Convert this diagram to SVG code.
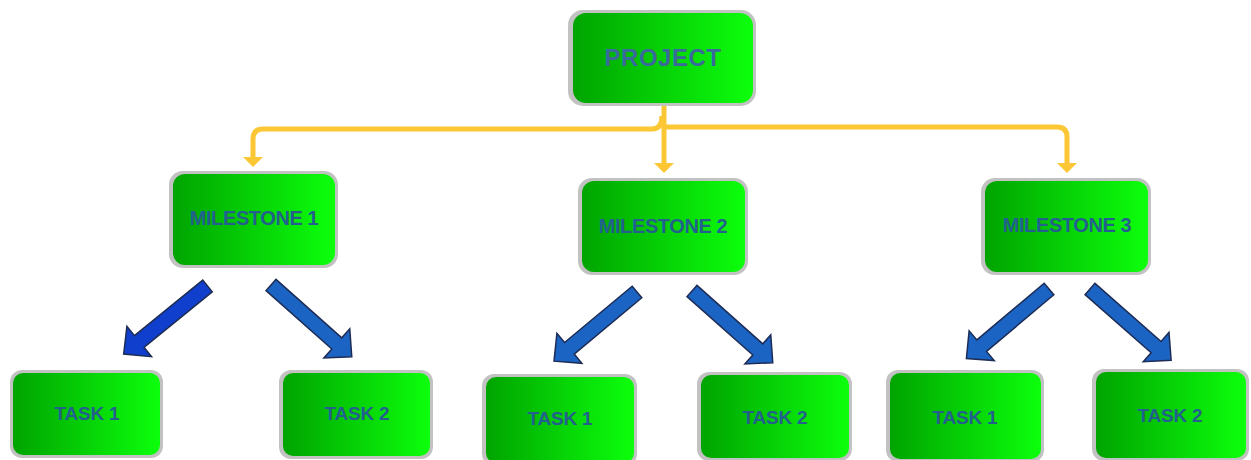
<svg xmlns="http://www.w3.org/2000/svg" width="1251" height="460" viewBox="0 0 1251 460">
<style>
  .sh { fill: #c2c2c2; }
  .bx { fill: url(#g); }
  .t { font-family: "Liberation Sans", Arial, sans-serif; font-weight: bold; fill: #23608e; text-anchor: middle; }
  .tp { font-size: 24px; fill: #3a6a9c; letter-spacing: 0.5px; }
  .tm { font-size: 20px; letter-spacing: -0.4px; }
  .tt { font-size: 19px; letter-spacing: -0.2px; }
  .y { fill: none; stroke: #fcc734; stroke-width: 5; stroke-linejoin: round; }
  .ya { fill: #fcc734; }
  .ar { fill: #1b64c4; stroke: #1d2c55; stroke-width: 1.5; stroke-linejoin: miter; }
  .ar2 { fill: #0f3fcc; }
</style>
<defs>
  <linearGradient id="g" x1="0" y1="0" x2="1" y2="0">
    <stop offset="0" stop-color="#00a400"/>
    <stop offset="1" stop-color="#0cff0c"/>
  </linearGradient>
  <path id="arrow" d="M0,-7.5 L88,-7.5 L88,-19.5 L108,0 L88,19.5 L88,7.5 L0,7.5 Z"/>
</defs>
<rect width="1251" height="460" fill="#ffffff"/>

<g id="connectors">
  <path class="y" d="M662,116 Q662,129 652,129 L263,129 Q253,129 253,139 L253,157"/>
  <path class="y" d="M664,103 L664,163"/>
  <path class="y" d="M666,127 L1057,127 Q1067,127 1067,137 L1067,163"/>
  <polygon class="ya" points="243,157 263,157 253,167"/>
  <polygon class="ya" points="654,163 674,163 664,173"/>
  <polygon class="ya" points="1057,163 1077,163 1067,173"/>
  <use href="#arrow" class="ar ar2" transform="translate(207.5,286) rotate(140.9)"/>
  <use href="#arrow" class="ar" transform="translate(271,285) rotate(41.6)"/>
  <use href="#arrow" class="ar" transform="translate(637,292) rotate(140.2)"/>
  <use href="#arrow" class="ar" transform="translate(692,291) rotate(41.6)"/>
  <use href="#arrow" class="ar" transform="translate(1049,289) rotate(139.9)"/>
  <use href="#arrow" class="ar" transform="translate(1090,289) rotate(41.3)"/>
</g>

<g id="project">
  <rect class="sh" x="568" y="10" width="188" height="96" rx="15"/>
  <rect class="bx" x="573" y="13" width="180" height="90" rx="13"/>
  <text class="t tp" x="663" y="66">PROJECT</text>
</g>
<g id="milestone1">
  <rect class="sh" x="169" y="171" width="169" height="97" rx="14"/>
  <rect class="bx" x="173" y="174" width="162" height="91" rx="12"/>
  <text class="t tm" x="254" y="225">MILESTONE 1</text>
</g>
<g id="milestone2">
  <rect class="sh" x="578" y="178" width="170" height="97" rx="14"/>
  <rect class="bx" x="582" y="181" width="163" height="91" rx="12"/>
  <text class="t tm" x="663" y="233">MILESTONE 2</text>
</g>
<g id="milestone3">
  <rect class="sh" x="981" y="178" width="170" height="97" rx="14"/>
  <rect class="bx" x="985" y="181" width="163" height="91" rx="12"/>
  <text class="t tm" x="1067" y="232">MILESTONE 3</text>
</g>
<g id="m1-task1">
  <rect class="sh" x="10" y="370" width="153" height="88" rx="12"/>
  <rect class="bx" x="13" y="373" width="147" height="82" rx="10"/>
  <text class="t tt" x="87" y="420">TASK 1</text>
</g>
<g id="m1-task2">
  <rect class="sh" x="279" y="370" width="154" height="89" rx="12"/>
  <rect class="bx" x="283" y="373" width="147" height="83" rx="10"/>
  <text class="t tt" x="357" y="420">TASK 2</text>
</g>
<g id="m2-task1">
  <rect class="sh" x="482" y="374" width="155" height="92" rx="12"/>
  <rect class="bx" x="486" y="377" width="148" height="86" rx="10"/>
  <text class="t tt" x="560" y="425">TASK 1</text>
</g>
<g id="m2-task2">
  <rect class="sh" x="697" y="372" width="155" height="89" rx="12"/>
  <rect class="bx" x="701" y="375" width="148" height="83" rx="10"/>
  <text class="t tt" x="775" y="424">TASK 2</text>
</g>
<g id="m3-task1">
  <rect class="sh" x="886" y="370" width="158" height="92" rx="12"/>
  <rect class="bx" x="890" y="373" width="151" height="86" rx="10"/>
  <text class="t tt" x="965" y="424">TASK 1</text>
</g>
<g id="m3-task2">
  <rect class="sh" x="1092" y="369" width="157" height="92" rx="12"/>
  <rect class="bx" x="1096" y="372" width="150" height="86" rx="10"/>
  <text class="t tt" x="1170" y="422">TASK 2</text>
</g>
</svg>
